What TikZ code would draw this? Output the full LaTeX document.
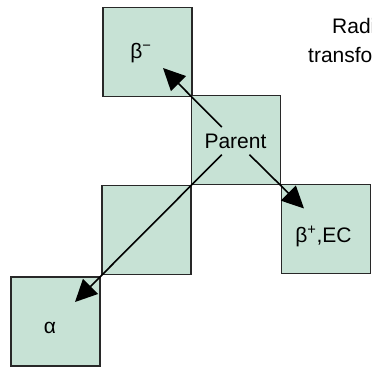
\documentclass[tikz,border=0pt]{standalone}
\usepackage{fontspec}
\setmainfont{Liberation Sans}
\usetikzlibrary{arrows.meta}
\definecolor{cellfill}{RGB}{199,226,213}
\definecolor{cellline}{RGB}{40,40,40}
\begin{document}
\begin{tikzpicture}[x=1pt,y=-1pt,
  cell/.style={draw=cellline, line width=1.3pt, fill=cellfill,
    minimum size=89pt, inner sep=0pt, outer sep=0pt},
  lbl/.style={font=\fontsize{21}{25}\selectfont, inner sep=0pt, anchor=base},
  decay/.style={line width=1.6pt, -{Triangle[length=22pt,width=21pt]}},
  ]
\useasboundingbox (0,0) rectangle (372,368);
\clip (0,0) rectangle (372,368);

% nuclide cells
\node[cell] (bminus) at (147.5,52) {};
\node[cell] (parent) at (236,140) {};
\node[cell] (mid)    at (146.5,230) {};
\node[cell] (alpha)  at (55.5,321.5) {};
\node[cell] (bplus)  at (326,229) {};

% cell labels
\node[lbl] (tminus)  at (141,58)  {β\textsuperscript{−}};
\node[lbl, inner xsep=2pt, inner ysep=6.3pt] (tparent) at (235.5,148) {Parent};
\node[lbl] (tplus)   at (323.5,242) {β\textsuperscript{+},EC};
\node[lbl] (talpha)  at (50,333)  {α};

% heading, running off the right edge
\node[lbl, anchor=base west] (head1) at (332,33) {Radioactive};
\node[lbl, anchor=base west] (head2) at (308,62) {transformation};

% decay arrow ends
\coordinate (endminus) at (163,68);
\coordinate (endplus)  at (304,208.5);
\coordinate (endalpha) at (75,302);

% decay arrows
\draw[decay] (tparent) -- (endminus);
\draw[decay] (tparent) -- (endplus);
\draw[decay] (tparent) -- (endalpha);
\end{tikzpicture}
\end{document}
